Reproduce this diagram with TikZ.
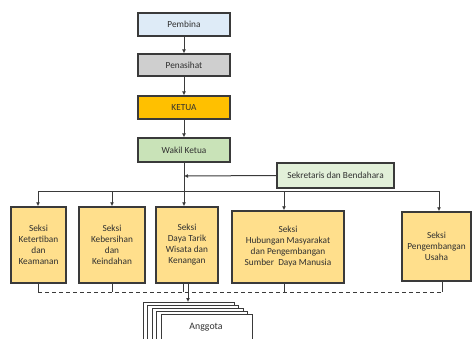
\documentclass[tikz,border=0pt]{standalone}
\usepackage{fontspec}
\setmainfont{Carlito}
\usetikzlibrary{arrows.meta}
\definecolor{bord}{HTML}{3A3A3A}
\definecolor{txt}{HTML}{303030}
\definecolor{cblue}{HTML}{DEEBF7}
\definecolor{cgray}{HTML}{CFCFCF}
\definecolor{corange}{HTML}{FFC000}
\definecolor{cgreen}{HTML}{C9E3B8}
\definecolor{clgreen}{HTML}{E2F0D9}
\definecolor{cyel}{HTML}{FFDF8C}
\tikzset{
  box/.style={draw=bord, line width=1.3pt, rectangle, inner sep=1pt, text=txt, font=\fontsize{9.3}{11}\selectfont, align=center},
  seksi/.style={box, fill=cyel, line width=1.5pt},
  conn/.style={draw=bord, line width=1pt},
  arr/.style={conn, -{Latex[length=4pt,width=4pt]}},
  dashln/.style={conn, dash pattern=on 4pt off 3pt},
  stackbox/.style={draw=bord, line width=1pt, fill=white}
}
\begin{document}
\begin{tikzpicture}[x=1pt,y=-1pt]
\useasboundingbox (0,0) rectangle (472,338);
\clip (0,0) rectangle (472,338);
\fill[white] (0,0) rectangle (472,338);

\node[box, fill=cblue, minimum width=92pt, minimum height=23pt] (pem) at (184,24.5) {Pembina};
\node[box, fill=cgray, minimum width=92pt, minimum height=22pt] (pen) at (184,65) {Penasihat};
\node[box, fill=corange, minimum width=92pt, minimum height=23pt] (ket) at (184,107.5) {KETUA};
\node[box, fill=cgreen, minimum width=92pt, minimum height=24pt] (wak) at (184,150) {Wakil Ketua};
\node[box, fill=clgreen, minimum width=117pt, minimum height=25pt] (sek) at (335.5,175.5) {Sekretaris dan Bendahara};

\node[seksi, minimum width=55pt, minimum height=76pt] (s1) at (38.5,245) {Seksi\\Ketertiban\\dan\\Keamanan};
\node[seksi, minimum width=66pt, minimum height=76pt] (s2) at (112,245) {Seksi\\Kebersihan\\dan\\Keindahan};
\node[seksi, minimum width=62pt, minimum height=76pt] (s3) at (187,245) {Seksi\\Daya Tarik\\Wisata dan\\Kenangan};
\node[seksi, minimum width=112pt, minimum height=72pt] (s4) at (288,247) {Seksi\\Hubungan Masyarakat\\dan Pengembangan\\Sumber\ \ Daya Manusia};
\node[seksi, minimum width=69pt, minimum height=69pt] (s5) at (436.5,246.5) {Seksi\\Pengembangan\\Usaha};

% top chain
\draw[arr] (pem.south) -- (pen.north);
\draw[arr] (pen.south) -- (ket.north);
\draw[arr] (ket.south) -- (wak.north);

% bus
\coordinate (jn) at (184,176);
\coordinate (bus) at (184,191);
\coordinate (bl) at (38,191);
\coordinate (br) at (439,191);
\draw[conn] (wak.south) -- (bus);
\draw[arr] (sek.west) -- (jn);
\draw[conn] (bl) -- (br);
\draw[arr] (bl) -- (s1.north -| bl);
\draw[arr] (112,191) -- (s2.north -| 112,0);
\draw[arr] (bus) -- (s3.north -| bus);
\draw[arr] (284,191) -- (s4.north -| 284,0);
\draw[arr] (br) -- (s5.north -| br);

% dashed line
\coordinate (dl) at (38,292);
\coordinate (dr) at (442,292);
\draw[dashln] (dl) -- (dr);
\draw[conn] (s1.south -| dl) -- (dl);
\draw[conn] (s2.south -| 112,0) -- (112,292);
\draw[conn] (s3.south -| 183,0) -- (183,292);
\draw[conn] (s4.south -| 284,0) -- (284,292);
\draw[conn] (s5.south -| dr) -- (dr);

% anggota stack
\foreach \i in {0,...,4}{
  \draw[stackbox] (143+4.5*\i, 302+3*\i) rectangle ++(91,50);
}
\node[text=txt, font=\fontsize{9.8}{11}\selectfont] (ang) at (206,327) {Anggota};
\coordinate (atop) at (188,302);
\draw[arr] (s3.south -| atop) -- (atop);
\end{tikzpicture}
\end{document}
